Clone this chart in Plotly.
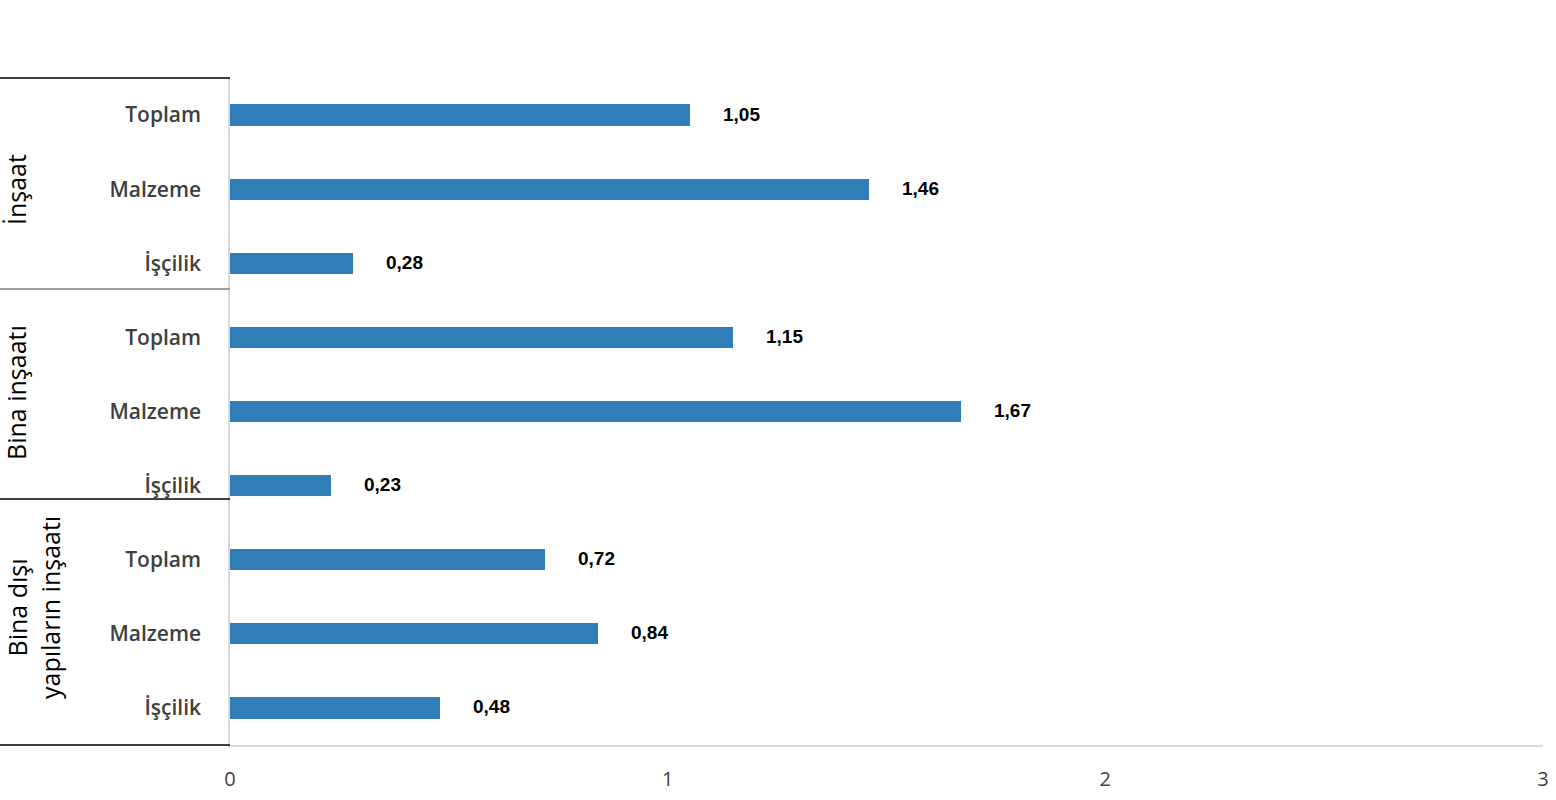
import plotly.graph_objects as go

categories = ["Toplam", "Malzeme", "İşçilik",
              "Toplam", "Malzeme", "İşçilik",
              "Toplam", "Malzeme", "İşçilik"]
values = [1.05, 1.46, 0.28, 1.15, 1.67, 0.23, 0.72, 0.84, 0.48]
value_labels = ["1,05", "1,46", "0,28", "1,15", "1,67", "0,23", "0,72", "0,84", "0,48"]
groups = ["İnşaat", "Bina inşaatı", "Bina dışı<br>yapıların inşaatı"]
x_ticks = [0, 1, 2, 3]

positions = list(range(len(categories)))

fig = go.Figure()
fig.add_trace(go.Bar(
    x=values, y=positions, orientation="h",
    marker=dict(color="#307DB8", line=dict(width=0)),
    width=0.285, hoverinfo="skip",
))

for v, p, lab in zip(values, positions, value_labels):
    fig.add_annotation(x=v, y=p, text=lab, showarrow=False, xanchor="left",
                       xshift=31, yshift=1,
                       font=dict(family="Liberation Sans, Arial", size=19, color="#000000", weight="bold"))

W_PLOT = 1556 - 230 - 13
H_PLOT = 745 - 78
def py(pix):
    return 1 - (pix - 78) / H_PLOT

left = -230 / W_PLOT
# group separator lines
for pix, col in [(78, "#000000"), (289, "#7f7f7f"), (499, "#000000"), (745, "#000000")]:
    fig.add_shape(type="line", xref="paper", yref="paper", x0=left, x1=0,
                  y0=py(pix), y1=py(pix), line=dict(color=col, width=1.3))

group_centers = [(16, 190), (16, 393), (33, 608)]
for g, (cx, cy) in zip(groups, group_centers):
    fig.add_annotation(xref="paper", yref="paper", x=left + cx / W_PLOT, y=py(cy),
                       text=g, showarrow=False, textangle=-90,
                       xanchor="center", yanchor="middle",
                       font=dict(family="Open Sans", size=25, color="#000000"))

fig.update_layout(
    width=1556, height=800,
    margin=dict(l=230, r=13, t=78, b=55, autoexpand=False),
    paper_bgcolor="white", plot_bgcolor="white",
    showlegend=False,
    bargap=0,
    xaxis=dict(range=[0, 3], tickvals=x_ticks, ticktext=[str(t) for t in x_ticks],
               showgrid=False, zeroline=False, showline=True, linecolor="#D9D9D9", linewidth=1.5,
               ticks="", ticklabelstandoff=15, automargin=False,
               tickfont=dict(family="Open Sans", size=20, color="#404040")),
    yaxis=dict(range=[8.5, -0.5], tickvals=positions, ticktext=categories,
               showgrid=False, zeroline=False, showline=True, linecolor="#D9D9D9", linewidth=1.5,
               ticks="", ticklabelstandoff=23, automargin=False,
               tickfont=dict(family="Open Sans", size=21, color="#404040", weight=600)),
)

fig.write_html("out.html", config={"displayModeBar": False},
               post_script="document.body.style.margin='0';document.body.style.overflow='hidden';")
